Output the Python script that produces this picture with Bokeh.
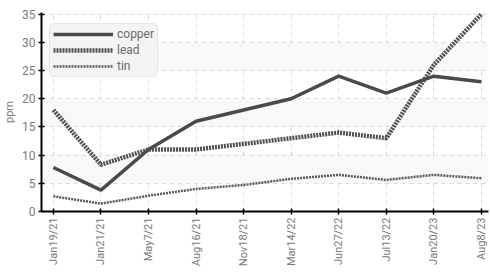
from bokeh.plotting import figure
from bokeh.models import Range1d, Legend, LegendItem, FixedTicker
from bokeh.embed import file_html
from bokeh.resources import INLINE

dates = ["Jan19/21", "Jan21/21", "May7/21", "Aug16/21", "Nov18/21",
         "Mar14/22", "Jun27/22", "Jul13/22", "Jan20/23", "Aug8/23"]
copper = [7.8, 3.8, 11.0, 16.0, 18.0, 20.0, 24.0, 21.0, 24.0, 23.0]
lead = [18.0, 8.3, 11.0, 11.0, 12.0, 13.0, 14.0, 13.0, 26.0, 35.0]
tin = [2.7, 1.4, 2.8, 4.0, 4.7, 5.8, 6.5, 5.6, 6.5, 5.9]
y_ticks = [0, 5, 10, 15, 20, 25, 30, 35]

FONT = "Roboto"
idx = list(range(len(dates)))

p = figure(width=490, height=272, output_backend="svg", toolbar_location=None,
           x_range=Range1d(-0.25, 9.15), y_range=Range1d(0, 35.3),
           min_border_left=0, min_border_top=12, min_border_right=2, min_border_bottom=61)
p.outline_line_color = None
p.background_fill_color = "white"

r1 = p.line(idx, copper, line_color="#4a4a4a", line_width=3.5)
r2 = p.line(idx, lead, line_color="#505050", line_width=4.5, line_dash="2 1")
r3 = p.line(idx, tin, line_color="#5a5a5a", line_width=2.5, line_dash="2 1")

p.xaxis.ticker = FixedTicker(ticks=idx)
p.xaxis.major_label_overrides = {i: d for i, d in zip(idx, dates)}
p.xaxis.major_label_orientation = 3.14159 / 2
p.yaxis.ticker = FixedTicker(ticks=y_ticks)
p.yaxis.axis_label = "ppm"

for ax in (p.xaxis[0], p.yaxis[0]):
    ax.axis_line_color = "black"
    ax.axis_line_width = 2
    ax.major_tick_line_color = "black"
    ax.major_tick_line_width = 1.5
    ax.major_tick_in = 3
    ax.major_tick_out = 3
    ax.minor_tick_line_color = None
    ax.major_label_text_color = "#7a7a7a"
    ax.major_label_text_font = FONT
    ax.major_label_text_font_size = "12px"
    ax.major_label_standoff = 3
p.xaxis.major_label_text_font_size = "11px"
p.yaxis.axis_label_text_color = "#7a7a7a"
p.yaxis.axis_label_text_font = FONT
p.yaxis.axis_label_text_font_style = "normal"
p.yaxis.axis_label_text_font_size = "11px"
p.yaxis.axis_label_standoff = 3

p.xgrid.grid_line_color = "#d8d8d8"
p.xgrid.grid_line_dash = "4 4"
p.ygrid.grid_line_color = "#d8d8d8"
p.ygrid.grid_line_dash = "4 4"
p.ygrid.band_fill_color = "#f8f8f8"
p.ygrid.band_fill_alpha = 1.0

legend = Legend(items=[LegendItem(label="copper", renderers=[r1]),
                       LegendItem(label="lead", renderers=[r2]),
                       LegendItem(label="tin", renderers=[r3])],
                location=(8, 134), glyph_width=60, glyph_height=14,
                spacing=2, padding=3, label_standoff=4,
                label_text_font=FONT, label_text_font_size="12px",
                label_text_color="#6a6a6a", background_fill_color="#f4f4f4",
                background_fill_alpha=1.0, border_line_color="#d4d4d4",
                border_radius=5)
p.add_layout(legend)

open("out.html", "w").write(file_html(p, INLINE))
